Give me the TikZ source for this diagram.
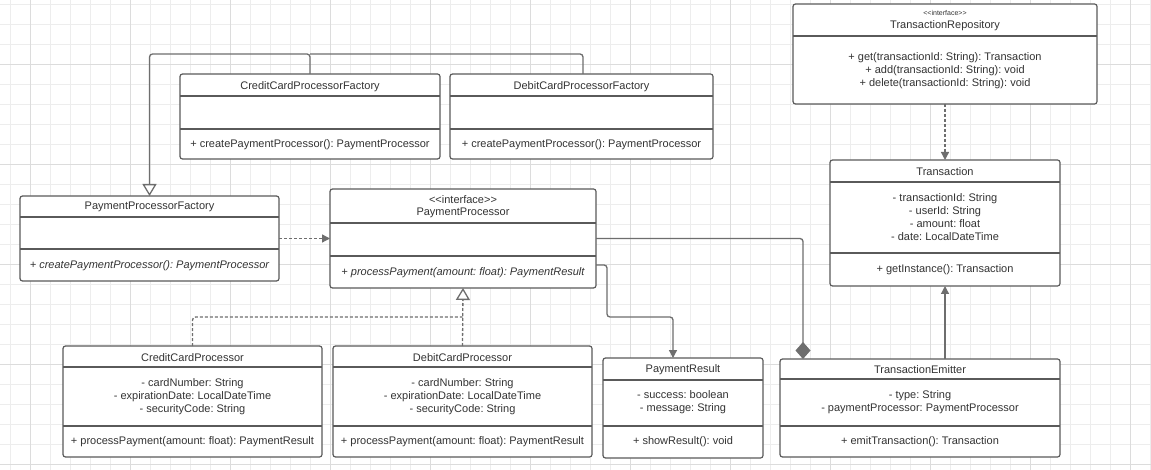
\documentclass[tikz,border=0pt]{standalone}
\usepackage{fontspec}
\setmainfont{Liberation Sans}
\usetikzlibrary{arrows.meta,calc}
\frenchspacing
\definecolor{gridlight}{HTML}{EDEDED}
\definecolor{griddark}{HTML}{DCDCDC}
\definecolor{boxline}{HTML}{5A5A5A}
\definecolor{connline}{HTML}{6E6E6E}
\definecolor{txt}{HTML}{333333}
\newcommand\umlclass[5]{%
  \node[umlbox, minimum width={(#4-#2)*1pt}, minimum height={(#5-#3)*1pt}] (#1) at ({(#2+#4)/2},{(#3+#5)/2}) {};}
\newcommand\umlsep[2]{%
  \draw[sepline] ($(#1.north west)+(0,#2)$) -- ($(#1.north east)+(0,#2)$);}
\newcommand\ilt{<\kern0pt<interface>\kern0pt>}
\begin{document}
\frenchspacing
\begin{tikzpicture}[x=1pt,y=-1pt,
  umlbox/.style={draw=boxline, line width=1.2pt, rounded corners=2.5pt, fill=white, inner sep=0pt, outer sep=0pt},
  sepline/.style={draw=boxline, line width=1.2pt},
  lbl/.style={text=txt, font=\fontsize{11pt}{13pt}\selectfont\frenchspacing, inner sep=0pt, align=center, yshift=-1.2pt},
  tiny/.style={text=txt, font=\fontsize{7pt}{8pt}\selectfont, inner sep=0pt},
  conn/.style={draw=connline, line width=1.3pt, rounded corners=3pt},
  dashline/.style={dash pattern=on 3pt off 2pt},
  gentip/.tip={Triangle[open, length=12pt, width=14pt, fill=white]},
  filltip/.tip={Triangle[length=8pt, width=8pt]},
  comptip/.tip={Diamond[length=17pt, width=15pt]}
]
\useasboundingbox (0,0) rectangle (1151,470);
\fill[white] (0,0) rectangle (1151,470);
% grid
\foreach \gx in {10,30,...,1150} \draw[gridlight, line width=0.8pt] (\gx,0) -- (\gx,470);
\foreach \gy in {4,24,...,464} \draw[gridlight, line width=0.8pt] (0,\gy) -- (1151,\gy);
\foreach \gx in {30,130,...,1130} \draw[griddark, line width=0.8pt] (\gx,0) -- (\gx,470);
\foreach \gy in {64,164,...,464} \draw[griddark, line width=0.8pt] (0,\gy) -- (1151,\gy);

% boxes
\umlclass{ccpf}{180}{74}{440}{159}
\umlsep{ccpf}{22}\umlsep{ccpf}{55}
\umlclass{dcpf}{450}{74}{713}{159}
\umlsep{dcpf}{22}\umlsep{dcpf}{55}
\umlclass{ppf}{20}{196}{279}{281}
\umlsep{ppf}{21}\umlsep{ppf}{53}
\umlclass{pp}{330}{189}{596}{288}
\umlsep{pp}{34}\umlsep{pp}{67}
\umlclass{tr}{793}{4}{1097}{104}
\umlsep{tr}{32}
\umlclass{tx}{830}{160}{1060}{286}
\umlsep{tx}{22}\umlsep{tx}{93}
\umlclass{ccp}{63}{346}{322}{457}
\umlsep{ccp}{21}\umlsep{ccp}{80}
\umlclass{dcp}{333}{346}{592}{457}
\umlsep{dcp}{21}\umlsep{dcp}{80}
\umlclass{pr}{603}{358}{763}{458}
\umlsep{pr}{22}\umlsep{pr}{68}
\umlclass{te}{780}{359}{1060}{457}
\umlsep{te}{20}\umlsep{te}{67}

% texts
\node[lbl] (ccpf-n) at (310,85) {CreditCardProcessorFactory};
\node[lbl] (ccpf-m) at (310,143) {+ createPaymentProcessor(): PaymentProcessor};
\node[lbl] (dcpf-n) at (581.5,85) {DebitCardProcessorFactory};
\node[lbl] (dcpf-m) at (581.5,143) {+ createPaymentProcessor(): PaymentProcessor};
\node[lbl] (ppf-n) at (149.5,206) {PaymentProcessorFactory};
\node[lbl, font=\fontsize{11pt}{13pt}\selectfont\itshape] (ppf-m) at (149.5,264) {+ createPaymentProcessor(): PaymentProcessor};
\node[lbl] (pp-s) at (463,198) {\ilt};
\node[lbl] (pp-n) at (463,212) {PaymentProcessor};
\node[lbl, font=\fontsize{11pt}{13pt}\selectfont\itshape] (pp-m) at (463,271) {+ processPayment(amount: float): PaymentResult};
\node[tiny] (tr-s) at (945,13) {\ilt};
\node[lbl] (tr-n) at (945,24) {TransactionRepository};
\node[lbl] (tr-m) at (945,69) {+ get(transactionId: String): Transaction\\+ add(transactionId: String): void\\+ delete(transactionId: String): void};
\node[lbl] (tx-n) at (945,170) {Transaction};
\node[lbl] (tx-a) at (945,216) {- transactionId: String\\- userId: String\\- amount: float\\- date: LocalDateTime};
\node[lbl] (tx-m) at (945,268) {+ getInstance(): Transaction};
\node[lbl] (ccp-n) at (192.5,356) {CreditCardProcessor};
\node[lbl] (ccp-a) at (192.5,395) {- cardNumber: String\\- expirationDate: LocalDateTime\\- securityCode: String};
\node[lbl] (ccp-m) at (192.5,440) {+ processPayment(amount: float): PaymentResult};
\node[lbl] (dcp-n) at (462.5,356) {DebitCardProcessor};
\node[lbl] (dcp-a) at (462.5,395) {- cardNumber: String\\- expirationDate: LocalDateTime\\- securityCode: String};
\node[lbl] (dcp-m) at (462.5,440) {+ processPayment(amount: float): PaymentResult};
\node[lbl] (pr-n) at (683,368) {PaymentResult};
\node[lbl] (pr-a) at (683,401) {- success: boolean\\- message: String};
\node[lbl] (pr-m) at (683,440) {+ showResult(): void};
\node[lbl] (te-n) at (920,368) {TransactionEmitter};
\node[lbl] (te-a) at (920,401) {- type: String\\- paymentProcessor: PaymentProcessor};
\node[lbl] (te-m) at (920,440) {+ emitTransaction(): Transaction};

% connectors
\draw[conn, -{gentip}] (ccpf.north) -- ++(0,-20) -| (ppf.north);
\draw[conn] ($(dcpf.north)+(1.5,0)$) -- ++(0,-20) -- ($(ccpf.north)+(0,-20)$);
\draw[conn, dashline, -{filltip}] (ppf.east) -- (pp.west);
\draw[conn, dashline] (ccp.north) |- ($(dcp.north)+(0,-29)$);
\draw[conn, dashline, -{gentip}] (dcp.north) -- (pp.south);
\draw[conn, -{filltip}] ($(pp.east)+(0,26.5)$) -- ++(11,0) -- ++(0,52) -| ($(pr.north)+(-10,0)$);
\draw[conn, {comptip}-] ($(te.north west)+(23,0)$) |- (pp.east);
\draw[conn, dashline, -{filltip}] (tr.south) -- (tx.north);
\draw[conn, -{filltip}] (te.north -| tx.south) -- (tx.south);
\end{tikzpicture}
\end{document}
